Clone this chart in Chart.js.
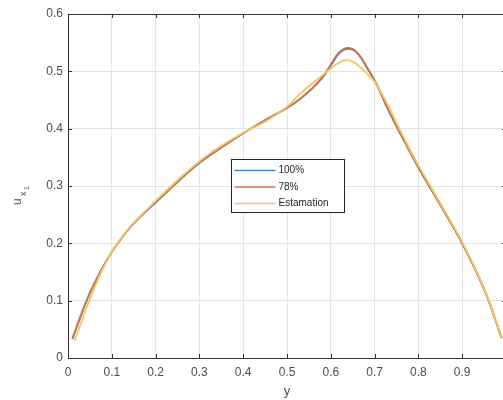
<!DOCTYPE html>
<html>
<head>
<meta charset="utf-8">
<script src="https://cdn.jsdelivr.net/npm/chart.js@4.4.1/dist/chart.umd.min.js"></script>
<style>
  html, body { margin: 0; padding: 0; background: #fff; overflow: hidden; }
</style>
</head>
<body>
<canvas id="chart" width="520" height="400"></canvas>
<script>
// sample positions along y for the measured profiles
const yPos = [0.01, 0.03, 0.05, 0.075, 0.1, 0.125, 0.15, 0.2, 0.25, 0.3, 0.35, 0.4, 0.45, 0.5, 0.53, 0.555, 0.58, 0.6, 0.62, 0.64, 0.66, 0.685, 0.705, 0.725, 0.75, 0.775, 0.8, 0.85, 0.9, 0.95, 0.99];
const full = [0.033, 0.075, 0.113, 0.152, 0.185, 0.212, 0.235, 0.271, 0.307, 0.34, 0.367, 0.392, 0.414, 0.436, 0.452, 0.468, 0.488, 0.51, 0.532, 0.539, 0.532, 0.503, 0.477, 0.443, 0.404, 0.368, 0.332, 0.267, 0.2, 0.12, 0.035];
const reduced = [0.034, 0.076, 0.114, 0.152, 0.185, 0.212, 0.235, 0.272, 0.307, 0.341, 0.367, 0.392, 0.415, 0.436, 0.452, 0.469, 0.489, 0.512, 0.534, 0.541, 0.533, 0.504, 0.477, 0.443, 0.404, 0.368, 0.332, 0.267, 0.2, 0.12, 0.035];

// estimated profile
const estPos = [0.015, 0.03, 0.05, 0.075, 0.1, 0.125, 0.15, 0.2, 0.25, 0.3, 0.35, 0.4, 0.45, 0.5, 0.53, 0.56, 0.6, 0.63, 0.65, 0.67, 0.7, 0.725, 0.75, 0.775, 0.8, 0.85, 0.9, 0.95, 0.99];
const estimation = [0.03, 0.062, 0.103, 0.148, 0.185, 0.213, 0.236, 0.274, 0.31, 0.343, 0.37, 0.393, 0.412, 0.438, 0.461, 0.48, 0.505, 0.519, 0.517, 0.505, 0.482, 0.449, 0.41, 0.372, 0.336, 0.27, 0.202, 0.121, 0.036];

const seriesNames = ['100%', '78%', 'Estamation'];
const xTicks = [0, 0.1, 0.2, 0.3, 0.4, 0.5, 0.6, 0.7, 0.8, 0.9, 1];
const yTicks = [0, 0.1, 0.2, 0.3, 0.4, 0.5, 0.6];

const toPoints = (xs, ys) => xs.map((x, i) => ({ x, y: ys[i] }));

const axisColor = '#333333';
const textColor = '#4d4d4d';
const fontFamily = '"Liberation Sans", Arial, sans-serif';

// box on the top/right, inward ticks, legend and the subscripted y title
const matlabAxes = {
  id: 'matlabAxes',
  afterDraw(chart) {
    const { ctx, chartArea: a, scales } = chart;
    const tick = 4;
    ctx.save();
    ctx.strokeStyle = axisColor;
    ctx.lineWidth = 1;
    ctx.beginPath();
    ctx.moveTo(a.left, a.top + 0.5);
    ctx.lineTo(a.right, a.top + 0.5);
    ctx.moveTo(a.right - 0.5, a.top);
    ctx.lineTo(a.right - 0.5, a.bottom);
    xTicks.forEach((v) => {
      const px = Math.round(scales.x.getPixelForValue(v)) + 0.5;
      ctx.moveTo(px, a.bottom);
      ctx.lineTo(px, a.bottom - tick);
      ctx.moveTo(px, a.top);
      ctx.lineTo(px, a.top + tick);
    });
    yTicks.forEach((v) => {
      const py = Math.round(scales.y.getPixelForValue(v)) + 0.5;
      ctx.moveTo(a.left, py);
      ctx.lineTo(a.left + tick, py);
      ctx.moveTo(a.right, py);
      ctx.lineTo(a.right - tick, py);
    });
    ctx.stroke();

    // legend
    const w = a.right - a.left;
    const h = a.bottom - a.top;
    const lx = Math.round(a.left + w * 0.372) + 0.5;
    const ly = Math.round(a.top + h * 0.422) + 0.5;
    const lw = 113;
    const lh = 53;
    ctx.fillStyle = '#ffffff';
    ctx.fillRect(lx, ly, lw, lh);
    ctx.strokeStyle = '#262626';
    ctx.strokeRect(lx, ly, lw, lh);
    ctx.font = '10px ' + fontFamily;
    ctx.textBaseline = 'middle';
    ctx.textAlign = 'left';
    chart.data.datasets.forEach((ds, i) => {
      const ry = ly + 11 + i * 16.5;
      ctx.strokeStyle = ds.borderColor;
      ctx.lineWidth = 1.5;
      ctx.beginPath();
      ctx.moveTo(lx + 3, ry);
      ctx.lineTo(lx + 44, ry);
      ctx.stroke();
      ctx.fillStyle = '#262626';
      ctx.fillText(ds.label, lx + 47, ry);
    });

    // y axis title u_{x_1}
    ctx.translate(21, 205);
    ctx.rotate(-Math.PI / 2);
    ctx.fillStyle = textColor;
    ctx.textBaseline = 'alphabetic';
    ctx.font = '12px ' + fontFamily;
    ctx.fillText('u', 0, 0);
    ctx.font = '9px ' + fontFamily;
    ctx.fillText('x', 9, 5);
    ctx.font = '7px ' + fontFamily;
    ctx.fillText('1', 15, 8);
    ctx.restore();
  }
};

const tickFont = { family: fontFamily, size: 12 };

new Chart(document.getElementById('chart'), {
  type: 'line',
  data: {
    datasets: [
      { label: seriesNames[0], data: toPoints(yPos, full), borderColor: '#3a8cc6', order: 3 },
      { label: seriesNames[1], data: toPoints(yPos, reduced), borderColor: '#cf7350', order: 2 },
      { label: seriesNames[2], data: toPoints(estPos, estimation), borderColor: '#f1c560', order: 1 }
    ]
  },
  options: {
    responsive: false,
    animation: false,
    devicePixelRatio: 1,
    layout: { padding: { top: 14, right: 14, left: 0, bottom: 0 } },
    elements: {
      point: { radius: 0 },
      line: { borderWidth: 1.8, tension: 0.4, fill: false }
    },
    plugins: {
      legend: { display: false },
      tooltip: { enabled: false }
    },
    scales: {
      x: {
        type: 'linear',
        min: 0,
        max: 1,
        afterBuildTicks: (s) => { s.ticks = xTicks.map((v) => ({ value: v })); },
        afterFit: (s) => { s.height = 42; },
        grid: { color: '#e4e4e4', drawTicks: false },
        border: { color: axisColor, width: 1 },
        ticks: { color: textColor, font: tickFont, padding: 7, maxRotation: 0, callback: (v) => String(v) },
        title: { display: true, text: 'y', color: textColor, font: { family: fontFamily, size: 13 }, padding: { top: 0, bottom: 1 } }
      },
      y: {
        type: 'linear',
        min: 0,
        max: 0.6,
        afterBuildTicks: (s) => { s.ticks = yTicks.map((v) => ({ value: v })); },
        afterFit: (s) => { s.width = 68; },
        grid: { color: '#e4e4e4', drawTicks: false },
        border: { color: axisColor, width: 1 },
        ticks: { color: textColor, font: tickFont, padding: 5, callback: (v) => String(v) }
      }
    }
  },
  plugins: [matlabAxes]
});
</script>
</body>
</html>
